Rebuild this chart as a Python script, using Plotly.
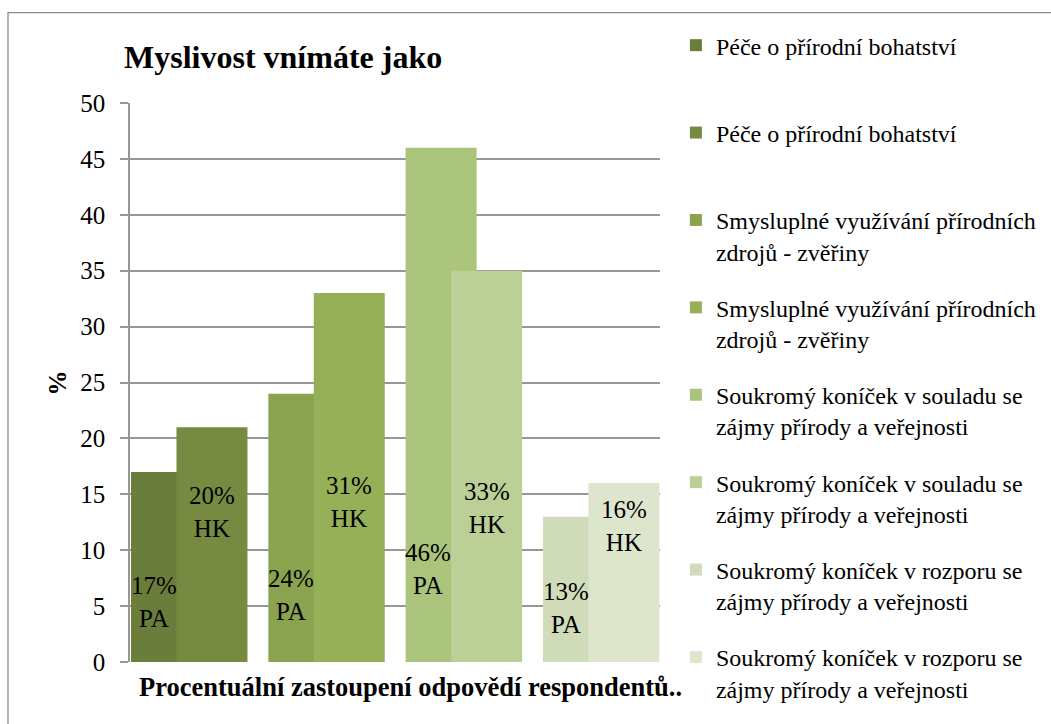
import plotly.graph_objects as go

# ---------------- data ----------------
category = "Procentuální zastoupení odpovědí respondentů.."
series_names = [
    "Péče o přírodní bohatství",
    "Péče o přírodní bohatství",
    "Smysluplné využívání přírodních<br>zdrojů - zvěřiny",
    "Smysluplné využívání přírodních<br>zdrojů - zvěřiny",
    "Soukromý koníček v souladu se<br>zájmy přírody a veřejnosti",
    "Soukromý koníček v souladu se<br>zájmy přírody a veřejnosti",
    "Soukromý koníček v rozporu se<br>zájmy přírody a veřejnosti",
    "Soukromý koníček v rozporu se<br>zájmy přírody a veřejnosti",
]
values = [17, 21, 24, 33, 46, 35, 13, 16]
percent_labels = ["17%", "20%", "24%", "31%", "46%", "33%", "13%", "16%"]
region_labels = ["PA", "HK", "PA", "HK", "PA", "HK", "PA", "HK"]
answer_group = [0, 0, 1, 1, 2, 2, 3, 3]
region_index = [0, 1, 0, 1, 0, 1, 0, 1]
y_ticks = [0, 5, 10, 15, 20, 25, 30, 35, 40, 45, 50]

# ---------------- styles / layout constants ----------------
colors = ["#6b7d3a", "#768b41", "#8aa34e", "#96b058",
          "#aac47c", "#bbcf96", "#cfdbb9", "#dde6cd"]
label_y = [5.4, 13.4, 6.0, 14.3, 8.3, 13.8, 4.8, 12.2]  # label block centres
FONT = "Liberation Serif, Times New Roman, serif"
BAR_W = 0.517
OFFSET = 0.331
GRID = "#979797"

fig = go.Figure()
annotations = []
for i, name in enumerate(series_names):
    xc = answer_group[i] + region_index[i] * OFFSET
    legend_name = name if "<br>" in name else name + "<br> "
    fig.add_trace(go.Bar(
        x=[xc], y=[values[i]], width=[BAR_W],
        name=legend_name, legendgroup="g%d" % i,
        marker=dict(color=colors[i], line=dict(width=0)),
        opacity=1, hoverinfo="skip",
    ))
    if region_index[i] == 0:
        xl = xc - BAR_W / 2 + OFFSET / 2
    else:
        xl = xc
    annotations.append(dict(
        x=xl, y=label_y[i], xref="x", yref="y",
        text=percent_labels[i] + "<br>" + region_labels[i],
        showarrow=False, xanchor="center", yanchor="middle",
        font=dict(family=FONT, size=25, color="black"),
    ))

annotations.append(dict(
    x=0.53, y=-0.045, xref="paper", yref="paper", text="<b>" + category + "</b>",
    showarrow=False, xanchor="center", yanchor="middle",
    font=dict(family=FONT, size=26.5, color="black"),
))
annotations.append(dict(
    x=-0.136, y=0.50, xref="paper", yref="paper", text="<b>%</b>",
    showarrow=False, xanchor="center", yanchor="middle", textangle=-90,
    font=dict(family=FONT, size=25, color="black"),
))

fig.update_layout(
    width=1051, height=724,
    margin=dict(l=130, r=391, t=103, b=62, autoexpand=False),
    paper_bgcolor="white", plot_bgcolor="white",
    barmode="overlay",
    font=dict(family=FONT),
    title=dict(text="<b>Myslivost vnímáte jako</b>", x=0.118, xanchor="left",
               y=0.922, yanchor="middle", xref="container", yref="container",
               font=dict(family=FONT, size=32, color="black")),
    showlegend=True,
    legend=dict(x=1.03, y=1.143, xanchor="left", yanchor="top",
                font=dict(family=FONT, size=24, color="black"),
                valign="top", tracegroupgap=22, traceorder="grouped",
                maxheight=720, bgcolor="rgba(0,0,0,0)"),
    annotations=annotations,
    shapes=[dict(type="rect", xref="paper", yref="paper",
                 x0=-0.2302, x1=1.8, y0=-0.2, y1=1.1615,
                 line=dict(color="#8c8c8c", width=1.3), layer="below")],
)
fig.update_xaxes(range=[-0.266, 3.594], showticklabels=False, showgrid=False,
                 zeroline=False, showline=False, ticks="", fixedrange=True)
fig.update_yaxes(range=[0, 50], tickvals=y_ticks, showgrid=True, gridcolor=GRID,
                 gridwidth=1.5, zeroline=False, showline=True, linecolor=GRID,
                 linewidth=1.5, ticks="outside", ticklen=8, tickcolor=GRID,
                 tickwidth=1.5, ticklabelstandoff=10,
                 tickfont=dict(family=FONT, size=25, color="black"),
                 fixedrange=True)

fig.write_html(
    "out.html",
    config={"displayModeBar": False},
    post_script="document.body.style.margin='0';document.body.style.overflow='hidden';",
)
